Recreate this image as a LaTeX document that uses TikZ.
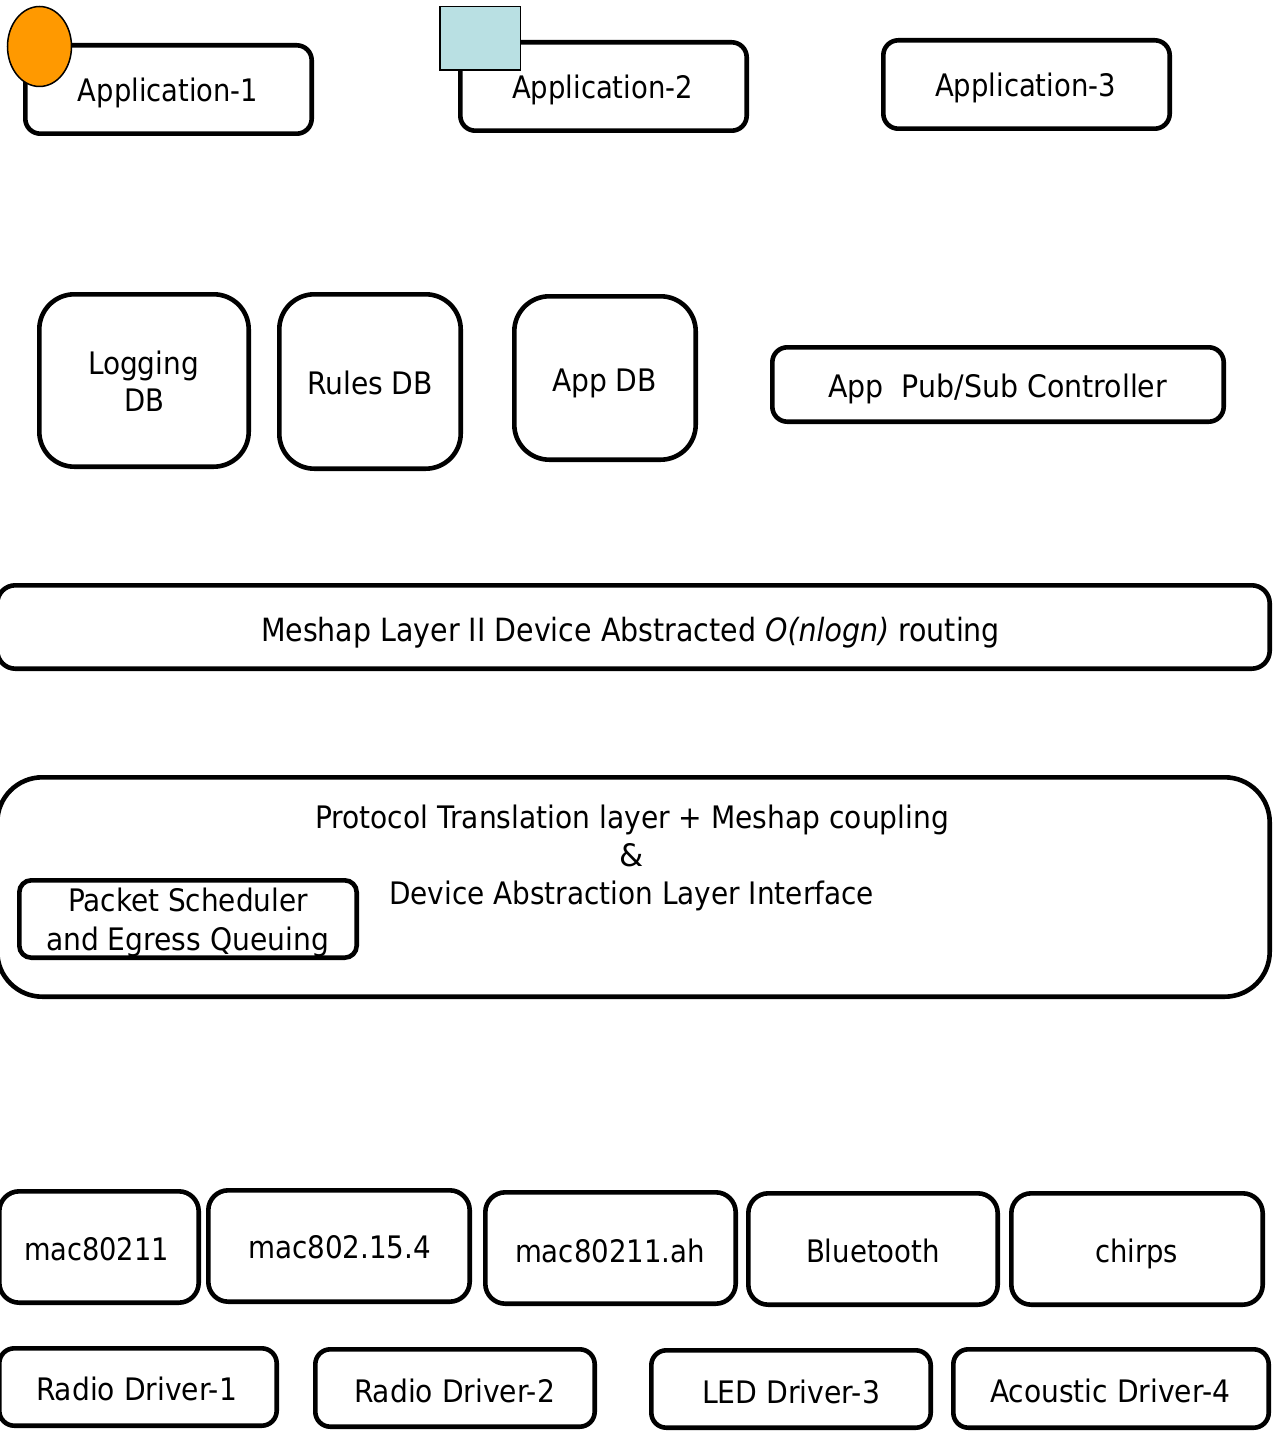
\documentclass[tikz,border=0pt]{standalone}
\usepackage{fontspec}
\setmainfont{DejaVu Sans}
\usepackage{graphicx}
\usetikzlibrary{shapes.geometric}

% set a label and stretch it horizontally to a given width (in pt)
\newsavebox\txtbox
\newcommand\fitx[2]{\sbox\txtbox{#2}\pgfmathsetmacro\fitfactor{#1/\the\wd\txtbox}\scalebox{\fitfactor}[1]{\usebox\txtbox}}

\definecolor{dotorange}{HTML}{FF9900}
\definecolor{tagblue}{HTML}{B9E0E3}

\tikzset{
  box/.style={draw, line width=4.6pt, rounded corners=#1, inner sep=0pt, outer sep=0pt},
  box/.default=15pt,
  lbl/.style={anchor=base, inner sep=0pt, outer sep=0pt, font=\fontsize{31}{38}\selectfont},
  marker/.style={draw, line width=1.5pt, inner sep=0pt},
}

% rounded box from the outer edges of its stroke (x1,y1)-(x2,y2)
\newcommand\bx[6]{\node[box=#1, minimum width={#5-#3-4.6}, minimum height={#6-#4-4.6}] (#2) at ({(#3+#5)/2},{(#4+#6)/2}) {};}

\begin{document}
\begin{tikzpicture}[x=1pt,y=-1pt]
\useasboundingbox[fill=white] (0,0) rectangle (1273,1431);

% applications
\bx{15pt}{app1}{23}{43}{314}{136}
\bx{15pt}{app2}{458}{40}{749}{133}
\bx{15pt}{app3}{881}{38}{1172}{131}
\node[marker, ellipse, fill=dotorange, minimum width=64, minimum height=80] (app1dot) at (39.5,46.5) {};
\node[marker, rectangle, fill=tagblue, minimum width=80.5, minimum height=63.5] (app2tag) at (480,38.5) {};
\node[lbl] (app1t) at (168,101.5) {\fitx{180}{Application-1}};
\node[lbl] (app2t) at (602.5,99) {\fitx{181}{Application-2}};
\node[lbl] (app3t) at (1025.5,97) {\fitx{181}{Application-3}};

% databases and controller
\bx{35pt}{logdb}{37}{292}{251}{469}
\bx{35pt}{rulesdb}{277}{292}{463}{471}
\bx{35pt}{appdb}{512}{294}{698}{462}
\bx{15pt}{pubsub}{770}{345}{1226}{424}
\node[lbl] (logdbt1) at (143.5,374) {\fitx{111}{Logging}};
\node[lbl] (logdbt2) at (144,411.5) {\fitx{40}{DB}};
\node[lbl] (rulesdbt) at (370,394) {\fitx{126}{Rules DB}};
\node[lbl] (appdbt) at (604.5,391) {\fitx{105}{App DB}};
\node[lbl] (pubsubt) at (997.5,397) {\fitx{339}{App\ \ Pub/Sub Controller}};

% routing layer
\bx{18pt}{meshap}{-5}{583}{1272}{671}
\node[lbl, font=\fontsize{32}{38}\selectfont] (meshapt) at (630.5,641) {\fitx{739}{Meshap Layer II Device Abstracted \textit{O(nlogn)} routing}};

% protocol translation layer
\bx{45pt}{proto}{-5}{775}{1272}{999}
\node[lbl] (protot1) at (632,828) {\fitx{634}{Protocol Translation layer + Meshap coupling}};
\node[lbl] (protot2) at (632,866) {\&};
\node[lbl] (protot3) at (631.5,904) {\fitx{485}{Device Abstraction Layer Interface}};
\bx{12pt}{sched}{17}{878}{359}{960}
\node[lbl] (schedt1) at (188,911.5) {\fitx{240}{Packet Scheduler}};
\node[lbl] (schedt2) at (187.5,950) {\fitx{283}{and Egress Queuing}};

% MAC layers
\bx{20pt}{mac1}{-3}{1189}{201}{1305}
\bx{20pt}{mac2}{206}{1188}{472}{1304}
\bx{20pt}{mac3}{483}{1190}{738}{1306}
\bx{20pt}{bt}{746}{1191}{1000}{1307}
\bx{20pt}{chirps}{1009}{1191}{1265}{1307}
\node[lbl] (mac1t) at (96.5,1260) {\fitx{145}{mac80211}};
\node[lbl] (mac2t) at (339.5,1258) {\fitx{183}{mac802.15.4}};
\node[lbl] (mac3t) at (610,1262) {\fitx{190}{mac80211.ah}};
\node[lbl] (btt) at (873,1262) {\fitx{134}{Bluetooth}};
\node[lbl] (chirpst) at (1136.5,1262) {\fitx{83}{chirps}};

% drivers
\bx{15pt}{drv1}{-3}{1346}{279}{1428}
\bx{15pt}{drv2}{313}{1347}{597}{1429}
\bx{15pt}{drv3}{649}{1348}{933}{1430}
\bx{15pt}{drv4}{951}{1347}{1271}{1430}
\node[lbl] (drv1t) at (136.5,1400) {\fitx{201}{Radio Driver-1}};
\node[lbl] (drv2t) at (454.5,1402) {\fitx{201}{Radio Driver-2}};
\node[lbl] (drv3t) at (791,1403) {\fitx{178}{LED Driver-3}};
\node[lbl] (drv4t) at (1110,1402) {\fitx{240}{Acoustic Driver-4}};
\end{tikzpicture}
\end{document}
